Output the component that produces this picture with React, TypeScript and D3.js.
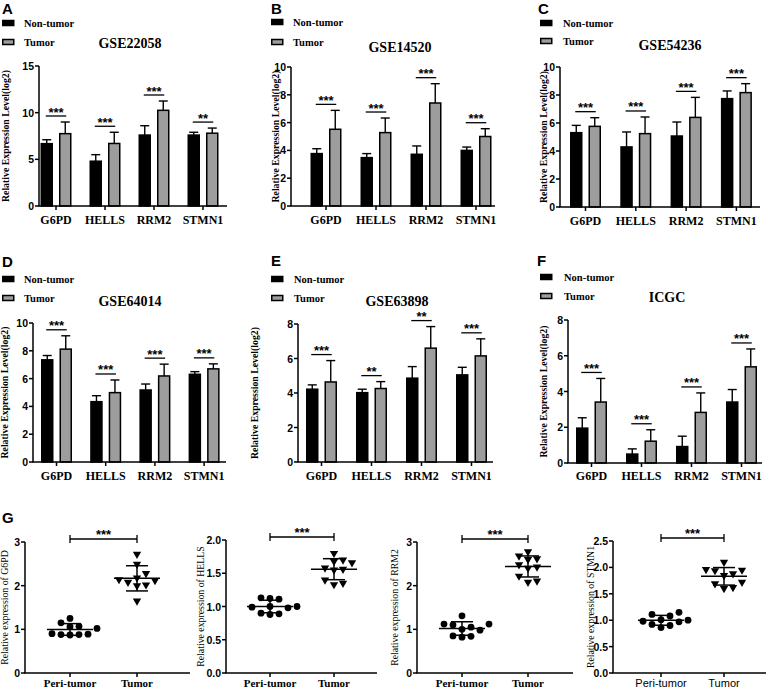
import React from "react";
import * as d3 from "d3";

// ---------- DATA ----------
const genes = ["G6PD", "HELLS", "RRM2", "STMN1"];
const groups = ["Non-tumor", "Tumor"];
const panelLetters = ["A", "B", "C", "D", "E", "F"];
const datasetNames = ["GSE22058", "GSE14520", "GSE54236", "GSE64014", "GSE63898", "ICGC"];
const datasetYMax = [15, 10, 10, 10, 8, 8];
const datasetYStep = [5, 2, 2, 2, 2, 2];

const gse22058Normal = [6.68, 4.8, 7.6, 7.6];
const gse22058NormalSD = [0.42, 0.7, 1.0, 0.3];
const gse22058Tumor = [7.75, 6.7, 10.25, 7.8];
const gse22058TumorSD = [1.25, 1.2, 1.0, 0.55];
const gse22058Sig = ["***", "***", "***", "**"];

const gse14520Normal = [3.77, 3.48, 3.72, 4.0];
const gse14520NormalSD = [0.35, 0.29, 0.6, 0.24];
const gse14520Tumor = [5.52, 5.28, 7.41, 5.0];
const gse14520TumorSD = [1.36, 1.05, 1.39, 0.56];
const gse14520Sig = ["***", "***", "***", "***"];

const gse54236Normal = [5.31, 4.29, 5.07, 7.74];
const gse54236NormalSD = [0.52, 1.07, 1.0, 0.55];
const gse54236Tumor = [5.76, 5.24, 6.4, 8.17];
const gse54236TumorSD = [0.62, 1.19, 1.43, 0.64];
const gse54236Sig = ["***", "***", "***", "***"];

const gse64014Normal = [7.35, 4.34, 5.18, 6.31];
const gse64014NormalSD = [0.31, 0.43, 0.43, 0.19];
const gse64014Tumor = [8.12, 4.99, 6.19, 6.7];
const gse64014TumorSD = [0.96, 0.91, 0.85, 0.36];
const gse64014Sig = ["***", "***", "***", "***"];

const gse63898Normal = [4.22, 4.02, 4.86, 5.05];
const gse63898NormalSD = [0.25, 0.2, 0.67, 0.44];
const gse63898Tumor = [4.64, 4.26, 6.6, 6.15];
const gse63898TumorSD = [1.24, 0.4, 1.25, 0.99];
const gse63898Sig = ["***", "**", "**", "***"];

const icgcNormal = [1.95, 0.5, 0.92, 3.41];
const icgcNormalSD = [0.58, 0.29, 0.58, 0.7];
const icgcTumor = [3.41, 1.22, 2.83, 5.38];
const icgcTumorSD = [1.32, 0.64, 1.09, 1.0];
const icgcSig = ["***", "***", "***", "***"];

const normalMeans = [gse22058Normal, gse14520Normal, gse54236Normal, gse64014Normal, gse63898Normal, icgcNormal];
const normalSDs = [gse22058NormalSD, gse14520NormalSD, gse54236NormalSD, gse64014NormalSD, gse63898NormalSD, icgcNormalSD];
const tumorMeans = [gse22058Tumor, gse14520Tumor, gse54236Tumor, gse64014Tumor, gse63898Tumor, icgcTumor];
const tumorSDs = [gse22058TumorSD, gse14520TumorSD, gse54236TumorSD, gse64014TumorSD, gse63898TumorSD, icgcTumorSD];
const sigLabels = [gse22058Sig, gse14520Sig, gse54236Sig, gse64014Sig, gse63898Sig, icgcSig];

// Panel G scatter data
const scatterGenes = ["G6PD", "HELLS", "RRM2", "STMN1"];
const scatterGroups = ["Peri-tumor", "Tumor"];
const scatterYMax = [3, 2, 3, 2.5];
const scatterYStep = [1, 0.5, 1, 0.5];
const scatterTickDigits = [0, 1, 0, 1];

const periG6PD = [0.87, 1.06, 1.15, 1.25, 0.88, 0.89, 0.9, 0.88, 1.07, 1.02];
const tumorG6PD = [2.72, 2.49, 2.28, 2.12, 2.18, 2.02, 2.14, 2.08, 2.0, 1.65];
const periHELLS = [1.12, 1.13, 1.11, 1.0, 0.99, 1.0, 0.98, 0.89, 0.88, 0.9];
const tumorHELLS = [1.8, 1.68, 1.66, 1.7, 1.58, 1.55, 1.56, 1.35, 1.4, 1.33];
const periRRM2 = [1.31, 1.12, 1.12, 1.1, 1.0, 0.98, 1.05, 0.82, 0.84, 0.85];
const tumorRRM2 = [2.78, 2.68, 2.62, 2.6, 2.48, 2.43, 2.4, 2.22, 2.08, 2.11];
const periSTMN1 = [1.15, 1.11, 1.08, 1.0, 0.98, 0.97, 1.01, 0.86, 0.9, 0.92];
const tumorSTMN1 = [2.1, 1.95, 1.94, 1.96, 1.85, 1.88, 1.72, 1.69, 1.6, 1.62];

const periValues = [periG6PD, periHELLS, periRRM2, periSTMN1];
const tumorValues = [tumorG6PD, tumorHELLS, tumorRRM2, tumorSTMN1];

// ---------- LAYOUT ----------
const SERIF = "'Liberation Serif', 'Times New Roman', serif";
const SANS = "'Liberation Sans', Arial, sans-serif";

const barLayouts = [
  { letterX: 2, letterY: 14, legX: 2, legTextX: 24, legY: [23, 42], titleX: 130, titleY: 48, axisX: 39, top: 66, bottom: 206, c0: 56, step: 49, end: 227, yTitleX: 9, labelY: 224 },
  { letterX: 271, letterY: 14, legX: 271, legTextX: 293, legY: [22, 42], titleX: 400, titleY: 52, axisX: 291, top: 67, bottom: 206, c0: 326, step: 50, end: 495, yTitleX: 279, labelY: 224 },
  { letterX: 538, letterY: 14, legX: 540, legTextX: 563, legY: [23, 41], titleX: 670, titleY: 50, axisX: 560, top: 67, bottom: 207, c0: 585.5, step: 50.3, end: 760, yTitleX: 547, labelY: 225 },
  { letterX: 2, letterY: 267, legX: 2, legTextX: 24, legY: [279, 298], titleX: 130, titleY: 306, axisX: 33, top: 323, bottom: 462, c0: 56.5, step: 49.2, end: 226, yTitleX: 8, labelY: 480 },
  { letterX: 271, letterY: 266, legX: 271, legTextX: 294, legY: [279, 298], titleX: 397, titleY: 306, axisX: 298, top: 324, bottom: 462, c0: 321.5, step: 50, end: 493, yTitleX: 258, labelY: 480 },
  { letterX: 537, letterY: 266, legX: 540, legTextX: 564, legY: [277, 296], titleX: 667, titleY: 302, axisX: 568, top: 320, bottom: 463, c0: 591.5, step: 50, end: 762, yTitleX: 547, labelY: 480 },
];

const scatterLayouts = [
  { axisX: 25, top: 542, bottom: 673, peri: 70, tumor: 137, end: 190, titleX: 8, xFont: SERIF, xBold: true },
  { axisX: 226, top: 540, bottom: 673, peri: 270, tumor: 334, end: 377, titleX: 204, xFont: SERIF, xBold: true },
  { axisX: 417, top: 542, bottom: 673, peri: 462, tumor: 528, end: 573, titleX: 398, xFont: SERIF, xBold: true },
  { axisX: 613, top: 541, bottom: 673, peri: 661, tumor: 724, end: 766, titleX: 594, xFont: SANS, xBold: false },
];

const GRAY = "#9d9d9d";

function BarPanel({ i }: { i: number }) {
  const L = barLayouts[i];
  const max = datasetYMax[i];
  const y = d3.scaleLinear().domain([0, max]).range([L.bottom, L.top]);
  const groupW = 31;
  const p = 1 - groupW / L.step;
  const x = d3
    .scaleBand<string>()
    .domain(genes)
    .range([L.c0 - L.step / 2, L.c0 - L.step / 2 + 4 * L.step])
    .paddingInner(p)
    .paddingOuter(p / 2);
  const xs = d3.scaleBand<string>().domain(groups).range([0, x.bandwidth()]).paddingInner(0.324);
  const ticks = d3.range(0, max + 1e-9, datasetYStep[i]);
  const means = [normalMeans[i], tumorMeans[i]];
  const sds = [normalSDs[i], tumorSDs[i]];
  const bw = xs.bandwidth();

  return (
    <g>
      <text x={L.letterX} y={L.letterY} fontFamily={SANS} fontWeight="bold" fontSize={15}>
        {panelLetters[i]}
      </text>
      {groups.map((g, gi) => (
        <g key={g}>
          <rect
            x={L.legX + 0.75}
            y={L.legY[gi] - 2.5}
            width={11}
            height={5}
            fill={gi === 0 ? "#000" : GRAY}
            stroke="#000"
            strokeWidth={1.5}
          />
          <text x={L.legTextX} y={L.legY[gi] + 4} fontFamily={SERIF} fontWeight="bold" fontSize={10.5}>
            {g}
          </text>
        </g>
      ))}
      <text x={L.titleX} y={L.titleY} textAnchor="middle" fontFamily={SERIF} fontWeight="bold" fontSize={14}>
        {datasetNames[i]}
      </text>
      <text
        transform={`translate(${L.yTitleX},${(L.top + L.bottom) / 2}) rotate(-90)`}
        textAnchor="middle"
        fontFamily={SERIF}
        fontWeight="bold"
        fontSize={9.8}
      >
        Relative Expression Level(log2)
      </text>
      {genes.map((gene, k) => {
        const gx = x(gene)!;
        const tops: number[] = [];
        const bars = groups.map((g, gi) => {
          const bx = gx + xs(g)!;
          const m = means[gi][k];
          const s = sds[gi][k];
          const cx = bx + bw / 2;
          tops.push(y(m + s));
          return (
            <g key={g}>
              <line x1={cx} x2={cx} y1={y(m)} y2={y(m + s)} stroke="#000" strokeWidth={1.4} />
              <line x1={cx - 4.5} x2={cx + 4.5} y1={y(m + s)} y2={y(m + s)} stroke="#000" strokeWidth={1.4} />
              <rect
                x={bx + 0.75}
                y={y(m)}
                width={bw - 1.5}
                height={L.bottom - y(m)}
                fill={gi === 0 ? "#000" : GRAY}
                stroke="#000"
                strokeWidth={1.5}
              />
            </g>
          );
        });
        const lineY = Math.min(...tops) - 6;
        const c1 = gx + xs(groups[0])! + bw / 2;
        const c2 = gx + xs(groups[1])! + bw / 2;
        return (
          <g key={gene}>
            {bars}
            <line x1={c1 - 1} x2={c2 + 1} y1={lineY} y2={lineY} stroke="#000" strokeWidth={1.3} />
            <text
              x={(c1 + c2) / 2}
              y={lineY + 0.5}
              textAnchor="middle"
              fontFamily={SANS}
              fontWeight="bold"
              fontSize={13}
            >
              {sigLabels[i][k]}
            </text>
            <line x1={gx + x.bandwidth() / 2} x2={gx + x.bandwidth() / 2} y1={L.bottom} y2={L.bottom + 4} stroke="#000" strokeWidth={1.5} />
            <text
              x={gx + x.bandwidth() / 2}
              y={L.labelY}
              textAnchor="middle"
              fontFamily={SERIF}
              fontWeight="bold"
              fontSize={12}
            >
              {gene}
            </text>
          </g>
        );
      })}
      <line x1={L.axisX} x2={L.axisX} y1={L.top} y2={L.bottom} stroke="#000" strokeWidth={1.5} />
      <line x1={L.axisX - 0.75} x2={L.end} y1={L.bottom} y2={L.bottom} stroke="#000" strokeWidth={1.5} />
      {ticks.map((t) => (
        <g key={t}>
          <line x1={L.axisX - 4} x2={L.axisX} y1={y(t)} y2={y(t)} stroke="#000" strokeWidth={1.5} />
          <text
            x={L.axisX - 5}
            y={y(t) + 4}
            textAnchor="end"
            fontFamily={SANS}
            fontWeight="bold"
            fontSize={10.5}
          >
            {t}
          </text>
        </g>
      ))}
    </g>
  );
}

function swarmOffsets(values: number[], y: (v: number) => number, dist: number, stepX: number) {
  const order = values.map((v, i) => i).sort((a, b) => values[a] - values[b]);
  const placed: { x: number; y: number }[] = [];
  const offs = new Array(values.length).fill(0);
  for (const idx of order) {
    const py = y(values[idx]);
    for (let k = 0; k < 40; k++) {
      const cand = k === 0 ? 0 : (k % 2 === 1 ? 1 : -1) * Math.ceil(k / 2) * stepX;
      const ok = placed.every((p) => (p.x - cand) ** 2 + (p.y - py) ** 2 >= dist * dist);
      if (ok) {
        offs[idx] = cand;
        placed.push({ x: cand, y: py });
        break;
      }
    }
  }
  return offs;
}

function ScatterPanel({ i }: { i: number }) {
  const L = scatterLayouts[i];
  const max = scatterYMax[i];
  const y = d3.scaleLinear().domain([0, max]).range([L.bottom, L.top]);
  const x = d3.scalePoint<string>().domain(scatterGroups).range([L.peri, L.tumor]);
  const ticks = d3.range(0, max + 1e-9, scatterYStep[i]);
  const sets = [periValues[i], tumorValues[i]];
  const tri = d3.symbol().type(d3.symbolTriangle).size(30)()!;
  const bracketY = L.top - 3;

  return (
    <g>
      <text
        transform={`translate(${L.titleX},${(L.top + L.bottom) / 2}) rotate(-90)`}
        textAnchor="middle"
        fontFamily={SERIF}
        fontSize={9.8}
      >
        {`Relative expression of ${scatterGenes[i]}`}
      </text>
      {scatterGroups.map((g, gi) => {
        const vals = sets[gi];
        const cx = x(g)!;
        const mean = d3.mean(vals)!;
        const sd = d3.deviation(vals)!;
        const offs = swarmOffsets(vals, y, 7.5, 9);
        return (
          <g key={g}>
            {vals.map((v, k) =>
              gi === 0 ? (
                <circle key={k} cx={cx + offs[k]} cy={y(v)} r={3.4} fill="#000" />
              ) : (
                <path key={k} d={tri} transform={`translate(${cx + offs[k]},${y(v)}) rotate(180)`} fill="#000" />
              )
            )}
            <line x1={cx - 23} x2={cx + 23} y1={y(mean)} y2={y(mean)} stroke="#000" strokeWidth={1.5} />
            <line x1={cx} x2={cx} y1={y(mean - sd)} y2={y(mean + sd)} stroke="#000" strokeWidth={1.5} />
            <line x1={cx - 11} x2={cx + 11} y1={y(mean - sd)} y2={y(mean - sd)} stroke="#000" strokeWidth={1.5} />
            <line x1={cx - 11} x2={cx + 11} y1={y(mean + sd)} y2={y(mean + sd)} stroke="#000" strokeWidth={1.5} />
            <line x1={cx} x2={cx} y1={L.bottom} y2={L.bottom + 4} stroke="#000" strokeWidth={1.5} />
            <text
              x={cx}
              y={687}
              textAnchor="middle"
              fontFamily={L.xFont}
              fontWeight={L.xBold ? "bold" : "normal"}
              fontSize={11}
            >
              {g}
            </text>
          </g>
        );
      })}
      <line x1={x(scatterGroups[0])!} x2={x(scatterGroups[1])!} y1={bracketY} y2={bracketY} stroke="#000" strokeWidth={1.3} />
      <line x1={x(scatterGroups[0])!} x2={x(scatterGroups[0])!} y1={bracketY - 4} y2={bracketY + 4} stroke="#000" strokeWidth={1.3} />
      <line x1={x(scatterGroups[1])!} x2={x(scatterGroups[1])!} y1={bracketY - 4} y2={bracketY + 4} stroke="#000" strokeWidth={1.3} />
      <text
        x={(x(scatterGroups[0])! + x(scatterGroups[1])!) / 2}
        y={bracketY - 0.5}
        textAnchor="middle"
        fontFamily={SANS}
        fontWeight="bold"
        fontSize={13}
      >
        ***
      </text>
      <line x1={L.axisX} x2={L.axisX} y1={L.top} y2={L.bottom} stroke="#000" strokeWidth={1.5} />
      <line x1={L.axisX - 0.75} x2={L.end} y1={L.bottom} y2={L.bottom} stroke="#000" strokeWidth={1.5} />
      {ticks.map((t) => (
        <g key={t}>
          <line x1={L.axisX - 4} x2={L.axisX} y1={y(t)} y2={y(t)} stroke="#000" strokeWidth={1.5} />
          <text x={L.axisX - 5} y={y(t) + 4} textAnchor="end" fontFamily={SANS} fontWeight="bold" fontSize={10.5}>
            {t.toFixed(scatterTickDigits[i])}
          </text>
        </g>
      ))}
    </g>
  );
}

export default function App() {
  return (
    <svg
      width={767}
      height={689}
      viewBox="0 0 767 689"
      style={{ position: "absolute", left: 0, top: 0, background: "#fff" }}
    >
      <rect x={0} y={0} width={767} height={689} fill="#fff" />
      {datasetNames.map((d, i) => (
        <BarPanel key={d} i={i} />
      ))}
      <text x={2} y={523} fontFamily={SANS} fontWeight="bold" fontSize={15}>
        G
      </text>
      {scatterGenes.map((g, i) => (
        <ScatterPanel key={g} i={i} />
      ))}
    </svg>
  );
}
